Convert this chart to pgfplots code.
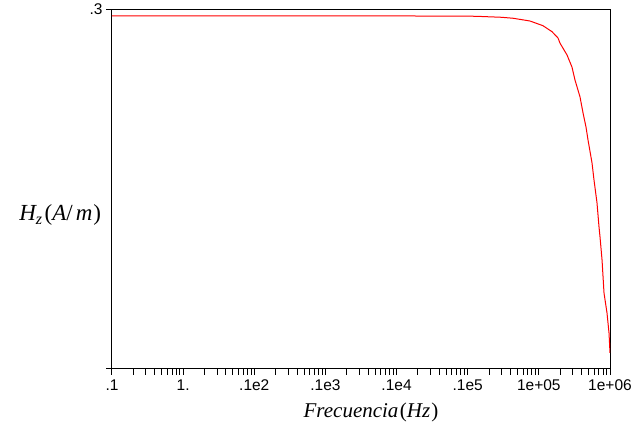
\documentclass[border=0pt]{standalone}
\usepackage{fontspec}
\setmainfont{Liberation Sans}
\newfontfamily\serif{Liberation Serif}
\usepackage{pgfplots}
\pgfplotsset{compat=1.18}
\begin{document}
\begin{tikzpicture}
\path[use as bounding box] (0pt,0pt) rectangle (641pt,425pt);
\begin{axis}[
  at={(112pt,56pt)}, anchor=south west,
  width=498pt, height=359.5pt, scale only axis,
  xmode=log, xmin=0.1, xmax=1e6, ymin=0, ymax=0.3,
  xtick={0.1,1,10,100,1000,10000,100000,1000000},
  xticklabels={.1,1.,.1e2,.1e3,.1e4,.1e5,1e+05,1e+06},
  minor xtick={0.2,0.3,0.4,0.5,0.6,0.7,0.8,0.9,
    2,3,4,5,6,7,8,9,
    20,30,40,50,60,70,80,90,
    200,300,400,500,600,700,800,900,
    2000,3000,4000,5000,6000,7000,8000,9000,
    20000,30000,40000,50000,60000,70000,80000,90000,
    200000,300000,400000,500000,600000,700000,800000,900000},
  ytick={0,0.3}, yticklabels={,.3},
  tick align=outside, xtick pos=bottom, ytick pos=left,
  major tick length=6pt, minor tick length=6pt,
  tick style={black, line width=1pt},
  every minor tick/.style={black, line width=1pt},
  axis line style={line width=1pt},
  ticklabel style={font=\fontsize{15.5}{17}\selectfont},
  xticklabel style={yshift=-1pt},
  xlabel={{\serif\itshape Frecuencia\kern1.5pt\upshape(\itshape Hz\kern1pt\upshape)}},
  xlabel style={at={(axis description cs:0.52,-0.136)}, anchor=base, font=\fontsize{21}{23}\selectfont},
  ylabel={{\serif\itshape H\textsubscript{z}\kern2pt\upshape(\itshape A\upshape/\kern3pt\itshape m\kern1pt\upshape)}},
  ylabel style={at={(axis description cs:-0.104,0.428)}, anchor=center, rotate=-90, font=\fontsize{23}{25}\selectfont},
]
\addplot[red, line width=1pt] coordinates {
(0.1,0.2946) (1000,0.2946) (10000,0.2945) (15000,0.2942) (30000,0.2935)
(43300,0.2927) (75000,0.2904) (114000,0.2865) (153000,0.2815) (186000,0.2762)
(198000,0.2720) (249000,0.2620) (292000,0.2520) (322000,0.2412) (379000,0.2270)
(418000,0.2136) (460000,0.2019) (491000,0.1911) (559000,0.1719) (596000,0.1577)
(657000,0.1385) (701000,0.1185) (724000,0.1102) (773000,0.0910) (824000,0.0634)
(908000,0.0467) (969000,0.0300) (1000000,0.0134)
};
\end{axis}
\end{tikzpicture}
\end{document}
